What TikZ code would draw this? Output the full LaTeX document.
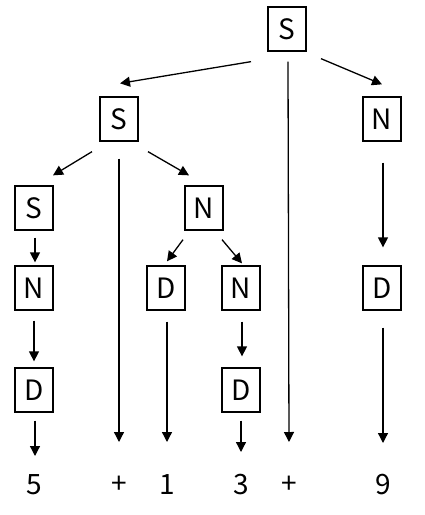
\documentclass[tikz,border=0pt]{standalone}
\usepackage{fontspec}
\setmainfont{Noto Sans CJK SC}
\usetikzlibrary{arrows.meta}
\tikzset{
  sym/.style={draw,line width=1.3pt,minimum width=38pt,minimum height=44pt,inner sep=0pt,font=\fontsize{28}{28}\selectfont},
  tok/.style={inner sep=0pt,font=\fontsize{28}{28}\selectfont},
  arr/.style={line width=1.3pt,-{Triangle[length=10pt,width=10pt]}}
}
\begin{document}
\begin{tikzpicture}[x=1pt,y=-1pt]
  \useasboundingbox (0,0) rectangle (425,515);
  % grammar symbols
  \node[sym] (s0) at (287,29) {S};
  \node[sym] (s1) at (119,119) {S};
  \node[sym] (n1) at (382,119) {N};
  \node[sym] (s2) at (34,208) {S};
  \node[sym] (n2) at (204,208) {N};
  \node[sym] (n3) at (34,288) {N};
  \node[sym] (d1) at (166,288) {D};
  \node[sym] (n4) at (241,288) {N};
  \node[sym] (d2) at (382,288) {D};
  \node[sym] (d3) at (34,390) {D};
  \node[sym] (d4) at (241,390) {D};
  % input string
  \node[tok] (t5) at (34,485) {5};
  \node[tok] (tp1) at (119,485) {+};
  \node[tok] (t1) at (167,485) {1};
  \node[tok] (t3) at (241,485) {3};
  \node[tok] (tp2) at (289,485) {+};
  \node[tok] (t9) at (383,485) {9};
  % derivations
  \draw[arr] ([shift={(-36,10)}]s0.south) -- ([shift={(1,-13)}]s1.north);
  \draw[arr] ([shift={(1,10)}]s0.south) -- ([shift={(0,-43)}]tp2.center);
  \draw[arr] ([shift={(34,7)}]s0.south) -- ([shift={(0,-12)}]n1.north);
  \draw[arr] ([shift={(-27,10)}]s1.south) -- ([shift={(19,-10)}]s2.north);
  \draw[arr] ([shift={(0,17)}]s1.south) -- ([shift={(0,-43)}]tp1.center);
  \draw[arr] ([shift={(29,10)}]s1.south) -- ([shift={(-15,-10)}]n2.north);
  \draw[arr] ([shift={(1,21)}]n1.south) -- ([shift={(1,-18)}]d2.north);
  \draw[arr] ([shift={(1,7)}]s2.south) -- ([shift={(1,-3)}]n3.north);
  \draw[arr] ([shift={(-21,9)}]n2.south) -- ([shift={(1,-4)}]d1.north);
  \draw[arr] ([shift={(18,9)}]n2.south) -- ([shift={(1,-2)}]n4.north);
  \draw[arr] ([shift={(0,10)}]n3.south) -- ([shift={(0,-6)}]d3.north);
  \draw[arr] ([shift={(1,11)}]d1.south) -- ([shift={(0,-43)}]t1.center);
  \draw[arr] ([shift={(1,11)}]n4.south) -- ([shift={(1,-11)}]d4.north);
  \draw[arr] ([shift={(1,17)}]d2.south) -- ([shift={(0,-42)}]t9.center);
  \draw[arr] ([shift={(1,8)}]d3.south) -- ([shift={(1,-29)}]t5.center);
  \draw[arr] ([shift={(0,8)}]d4.south) -- ([shift={(0,-33)}]t3.center);
\end{tikzpicture}
\end{document}
